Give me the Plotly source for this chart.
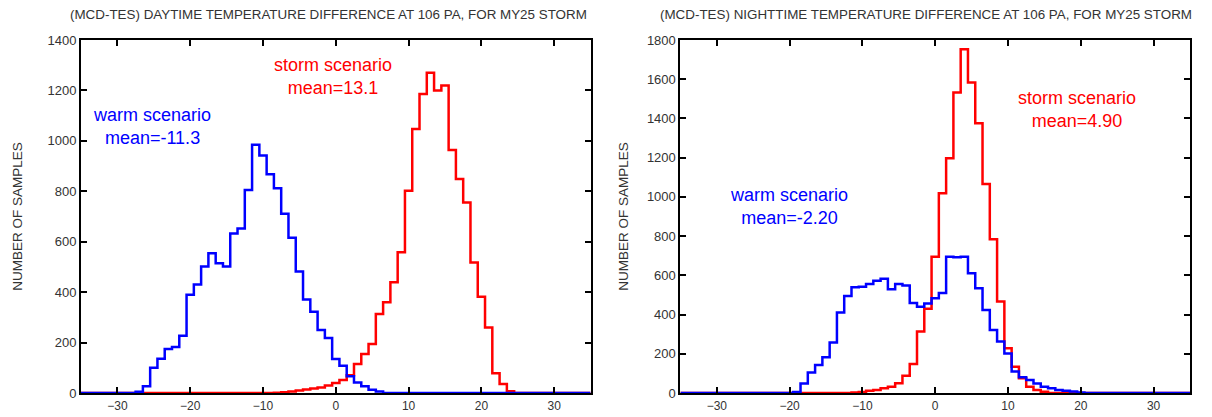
import plotly.graph_objects as go
from plotly.subplots import make_subplots

# Bin centres (1-unit bins), temperature difference
bins = list(range(-35, 36))

# Daytime panel
day_warm = [0]*8 + [5, 27, 100, 136, 175, 182, 227, 390, 430, 502, 554, 515, 502, 633, 652, 805, 985,
                    942, 868, 812, 711, 616, 482, 371, 322, 250, 218, 135, 108, 66, 42, 27, 13, 6] + [0]*29
day_storm = [0]*27 + [1, 3, 6, 10, 14, 18, 22, 30, 40, 52, 70, 115, 155, 194, 313, 360, 439, 558, 802,
                      1047, 1186, 1270, 1200, 1220, 964, 849, 756, 518, 382, 260, 78, 36, 7] + [0]*11

# Nighttime panel
night_warm = [0]*16 + [5, 49, 104, 143, 182, 257, 410, 495, 539, 542, 556, 573, 583, 529, 556, 548,
                       459, 440, 457, 483, 510, 695, 692, 695, 610, 534, 423, 321, 262, 202, 109, 80,
                       66, 49, 32, 24, 15, 12, 8, 3] + [0]*15
night_storm = [0]*24 + [3, 5, 12, 15, 24, 32, 50, 88, 148, 313, 430, 695, 1018, 1197, 1532, 1753, 1583,
                        1375, 1066, 784, 466, 228, 134, 75, 32, 15, 7] + [0]*20

titles = ["(MCD-TES) DAYTIME TEMPERATURE DIFFERENCE AT 106 PA, FOR MY25 STORM",
          "(MCD-TES) NIGHTTIME TEMPERATURE DIFFERENCE AT 106 PA, FOR MY25 STORM"]
x_ticks = [-30, -20, -10, 0, 10, 20, 30]

BLUE = "#0000ff"
RED = "#ff0000"
FONT = "Liberation Sans, Arial, sans-serif"
TXT = "#333333"

fig = make_subplots(rows=1, cols=2, horizontal_spacing=0.081)

for col, (warm, storm) in enumerate([(day_warm, day_storm), (night_warm, night_storm)], start=1):
    fig.add_trace(go.Scatter(x=bins, y=storm, mode="lines", line=dict(color=RED, width=2.5, shape="hvh"),
                             showlegend=False), row=1, col=col)
    fig.add_trace(go.Scatter(x=bins, y=warm, mode="lines", line=dict(color=BLUE, width=2.5, shape="hvh"),
                             showlegend=False), row=1, col=col)

axis_common = dict(showline=True, linewidth=2, linecolor="black", mirror="ticks", ticks="inside",
                   ticklen=6, tickwidth=2, tickcolor="black", showgrid=False, zeroline=False,
                   automargin=False)
for col in (1, 2):
    fig.update_xaxes(range=[-35, 35], tickvals=x_ticks, ticklabelstandoff=1,
                     tickfont=dict(family=FONT, size=12, color=TXT), row=1, col=col, **axis_common)
fig.update_yaxes(range=[0, 1400], dtick=200, tickfont=dict(family=FONT, size=13, color=TXT),
                 row=1, col=1, **axis_common)
fig.update_yaxes(range=[0, 1800], dtick=200, tickfont=dict(family=FONT, size=13, color=TXT),
                 row=1, col=2, **axis_common)
fig.update_yaxes(title=dict(text="NUMBER OF SAMPLES", font=dict(family=FONT, size=13.5, color=TXT),
                            standoff=22), row=1, col=1)
fig.update_yaxes(title=dict(text="NUMBER OF SAMPLES", font=dict(family=FONT, size=13.5, color=TXT),
                            standoff=15), row=1, col=2)

ann = []
# panel titles
ann.append(dict(text=titles[0], x=0.2236, y=1.071, xref="paper", yref="paper", showarrow=False,
                xanchor="center", yanchor="middle", font=dict(family=FONT, size=13.4, color=TXT)))
ann.append(dict(text=titles[1], x=0.762, y=1.071, xref="paper", yref="paper", showarrow=False,
                xanchor="center", yanchor="middle", font=dict(family=FONT, size=13.4, color=TXT)))
# scenario labels
def lab(text, x, y, color, xref, yref):
    return dict(text=text, x=x, y=y, xref=xref, yref=yref, showarrow=False, align="center",
                font=dict(family=FONT, size=18, color=color))
ann.append(lab("warm scenario<br>mean=-11.3", -25.3, 1057, BLUE, "x", "y"))
ann.append(lab("storm scenario<br>mean=13.1", -0.4, 1255, RED, "x", "y"))
ann.append(lab("storm scenario<br>mean=4.90", 19.5, 1448, RED, "x2", "y2"))
ann.append(lab("warm scenario<br>mean=-2.20", -20.1, 951, BLUE, "x2", "y2"))
fig.update_layout(annotations=ann)

fig.update_layout(width=1212, height=417, margin=dict(l=81, r=22, t=40, b=24, autoexpand=False),
                  plot_bgcolor="white", paper_bgcolor="white",
                  font=dict(family=FONT, color=TXT))

fig.write_html("out.html")
